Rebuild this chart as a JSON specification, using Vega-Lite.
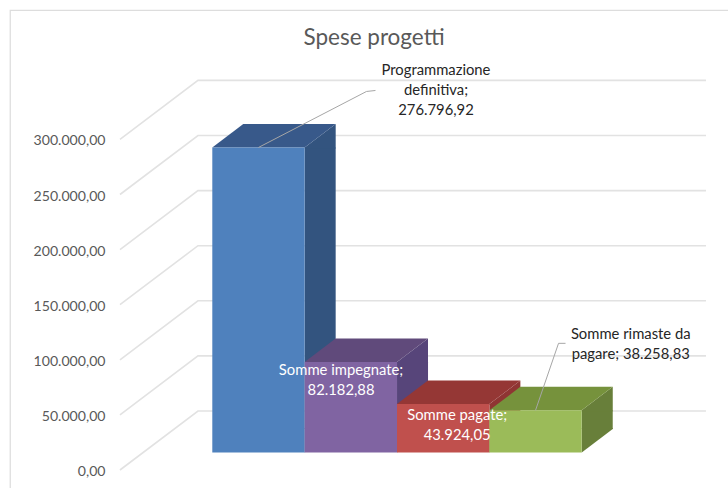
{
"$schema":"https://vega.github.io/schema/vega-lite/v6.json",
"width":720,"height":480,
"autosize":{"type":"none"},
"padding":{"left":10,"top":10,"right":-2,"bottom":-2},
"background":"white",
"config":{"view":{"stroke":"#DDDDDD","strokeWidth":1.25},"font":"Lato"},
"title":{"text":"Spese progetti","anchor":"middle","offset":-39,"dx":4,"fontSize":22.5,"font":"Lato","fontWeight":"normal","color":"#595959"},
"datasets":{
 "spese":[
  {"voce":"Programmazione definitiva","importo":276796.92},
  {"voce":"Somme impegnate","importo":82182.88},
  {"voce":"Somme pagate","importo":43924.05},
  {"voce":"Somme rimaste da pagare","importo":38258.83}
 ],
 "tacche":[{"tick":0},{"tick":50000},{"tick":100000},{"tick":150000},{"tick":200000},{"tick":250000},{"tick":300000}]
},
"encoding":{
 "x":{"field":"voce","type":"nominal","sort":null,"axis":null,"scale":{"type":"band","paddingInner":0,"paddingOuter":0,"range":[202.3,571.7]}}
},
"resolve":{"scale":{"color":"independent"}},
"layer":[
 {"data":{"name":"tacche"},
  "mark":{"type":"point","shape":"M0,0L78,-59L586,-59","size":4,"filled":false,"stroke":"#E2E2E2","strokeWidth":1.6,"opacity":1,"xOffset":-138.5,"yOffset":17.5},
  "encoding":{
   "x":{"datum":"Programmazione definitiva","type":"nominal"},
   "y":{"field":"tick","type":"quantitative","title":null,
    "scale":{"domain":[-34029,401543],"nice":false,"zero":false},
    "axis":{"values":[0,50000,100000,150000,200000,250000,300000],"grid":false,"domain":false,"ticks":false,"title":null,"labelPadding":-95,"labelOffset":19,"labelFontSize":14.1,"labelFont":"Lato","labelColor":"#595959",
     "labelExpr":"replace(replace(replace(format(datum.value,',.2f'),',','#'),'.',','),'#','.')"}}
  }},
 {"data":{"name":"spese"},
  "mark":{"type":"bar","width":31,"xOffset":61.7,"y2Offset":-23.5},
  "encoding":{
   "y":{"field":"importo","type":"quantitative","title":null},
   "y2":{"datum":0},
   "color":{"field":"voce","type":"nominal","legend":null,"sort":null,"scale":{"domain":["Programmazione definitiva","Somme impegnate","Somme pagate","Somme rimaste da pagare"],"range":["#33547F","#57457A","#8F3533","#687F3A"]}}
  }},
 {"data":{"name":"spese"},
  "mark":{"type":"point","shape":"M0,0L31,-23.5L31,1L0,1Z","size":4,"filled":true,"opacity":1,"xOffset":46.2},
  "encoding":{
   "y":{"field":"importo","type":"quantitative","title":null},
   "color":{"field":"voce","type":"nominal","legend":null,"sort":null,"scale":{"domain":["Programmazione definitiva","Somme impegnate","Somme pagate","Somme rimaste da pagare"],"range":["#33547F","#57457A","#8F3533","#687F3A"]}}
  }},
 {"data":{"name":"spese"},
  "mark":{"type":"point","shape":"M0,0L31,-23.5L31,-24.5L0,-24.5Z","size":4,"filled":true,"opacity":1,"xOffset":46.2},
  "encoding":{
   "y":{"datum":0,"type":"quantitative","title":null},
   "color":{"field":"voce","type":"nominal","legend":null,"sort":null,"scale":{"domain":["Programmazione definitiva","Somme impegnate","Somme pagate","Somme rimaste da pagare"],"range":["#33547F","#57457A","#8F3533","#687F3A"]}}
  }},
 {"data":{"name":"spese"},
  "mark":{"type":"point","shape":"M-46.2,0L46.2,0L77.2,-23.5L-15.2,-23.5Z","size":4,"filled":true,"opacity":1},
  "encoding":{
   "y":{"field":"importo","type":"quantitative","title":null},
   "color":{"field":"voce","type":"nominal","legend":null,"sort":null,"scale":{"domain":["Programmazione definitiva","Somme impegnate","Somme pagate","Somme rimaste da pagare"],"range":["#38598A","#604A7B","#953735","#76923C"]}}
  }},
 {"data":{"name":"spese"},
  "mark":{"type":"bar","width":{"band":1}},
  "encoding":{
   "y":{"field":"importo","type":"quantitative","title":null},
   "y2":{"datum":0},
   "color":{"field":"voce","type":"nominal","legend":null,"sort":null,"scale":{"domain":["Programmazione definitiva","Somme impegnate","Somme pagate","Somme rimaste da pagare"],"range":["#4F81BD","#8064A2","#C0504D","#9BBB59"]}}
  }},
 {"data":{"name":"spese"},
  "transform":[{"filter":"datum.voce==='Programmazione definitiva'"}],
  "mark":{"type":"point","shape":"M0,0L108,-56L117,-57","size":4,"filled":false,"stroke":"#A6A6A6","strokeWidth":1,"opacity":1},
  "encoding":{"y":{"field":"importo","type":"quantitative","title":null}}},
 {"data":{"name":"spese"},
  "transform":[{"filter":"datum.voce==='Somme rimaste da pagare'"}],
  "mark":{"type":"point","shape":"M0,0L23,-67L30,-67","size":4,"filled":false,"stroke":"#A6A6A6","strokeWidth":1,"opacity":1},
  "encoding":{"y":{"field":"importo","type":"quantitative","title":null}}},
 {"data":{"name":"spese"},
  "transform":[{"filter":"datum.voce==='Programmazione definitiva'"},{"calculate":"'Programmazione\\ndefinitiva;\\n276.796,92'","as":"etichetta"}],
  "mark":{"type":"text","font":"Lato","fontSize":14.8,"lineHeight":20,"lineBreak":"\n","align":"center","baseline":"middle","color":"#262626","dx":177.5,"dy":-76.4},
  "encoding":{"y":{"field":"importo","type":"quantitative","title":null},"text":{"field":"etichetta"}}},
 {"data":{"name":"spese"},
  "transform":[{"filter":"datum.voce==='Somme impegnate'"},{"calculate":"'Somme impegnate;\\n82.182,88'","as":"etichetta"}],
  "mark":{"type":"text","font":"Lato","fontSize":14.8,"lineHeight":20,"lineBreak":"\n","align":"center","baseline":"middle","color":"#FFFFFF","dx":-9.8,"dy":9.5},
  "encoding":{"y":{"field":"importo","type":"quantitative","title":null},"text":{"field":"etichetta"}}},
 {"data":{"name":"spese"},
  "transform":[{"filter":"datum.voce==='Somme pagate'"},{"calculate":"'Somme pagate;\\n43.924,05'","as":"etichetta"}],
  "mark":{"type":"text","font":"Lato","fontSize":14.8,"lineHeight":20,"lineBreak":"\n","align":"center","baseline":"middle","color":"#FFFFFF","dx":14,"dy":12.3},
  "encoding":{"y":{"field":"importo","type":"quantitative","title":null},"text":{"field":"etichetta"}}},
 {"data":{"name":"spese"},
  "transform":[{"filter":"datum.voce==='Somme rimaste da pagare'"},{"calculate":"'Somme rimaste da\\npagare; 38.258,83'","as":"etichetta"}],
  "mark":{"type":"text","font":"Lato","fontSize":14.8,"lineHeight":20,"lineBreak":"\n","align":"center","baseline":"middle","color":"#262626","dx":95.2,"dy":-75.8},
  "encoding":{"y":{"field":"importo","type":"quantitative","title":null},"text":{"field":"etichetta"}}}
]
}
